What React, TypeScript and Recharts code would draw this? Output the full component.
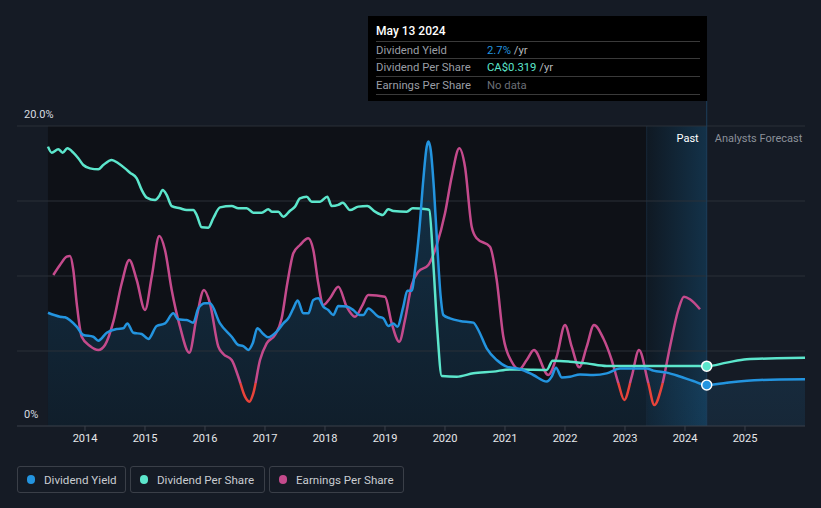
import React from 'react';
import {
  ComposedChart,
  Area,
  Line,
  XAxis,
  YAxis,
  ReferenceArea,
  ReferenceLine,
  ReferenceDot,
} from 'recharts';

// ---- Dividend Yield (%), incl. analyst forecast after May 2024 ----
const yieldYears = [
  2013.383, 2013.583, 2013.667, 2013.862, 2013.972, 2014.138, 2014.222, 2014.362, 2014.528, 2014.638,
  2014.705, 2014.805, 2014.945, 2015.055, 2015.195, 2015.333, 2015.472, 2015.555, 2015.695, 2015.805,
  2015.888, 2016.0, 2016.083, 2016.25, 2016.445, 2016.555, 2016.638, 2016.722, 2016.795, 2016.872,
  2016.972, 2017.055, 2017.195, 2017.305, 2017.388, 2017.472, 2017.545, 2017.638, 2017.722, 2017.805,
  2017.888, 2017.972, 2018.055, 2018.138, 2018.222, 2018.362, 2018.472, 2018.572, 2018.638, 2018.722,
  2018.888, 2018.972, 2019.055, 2019.138, 2019.205, 2019.305, 2019.372, 2019.445, 2019.5, 2019.572,
  2019.638, 2019.695, 2019.722, 2019.762, 2019.817, 2019.872, 2019.928, 2019.972, 2020.083, 2020.25,
  2020.472, 2020.555, 2020.695, 2020.862, 2021.028, 2021.25, 2021.472, 2021.695, 2021.778, 2021.85,
  2021.945, 2022.083, 2022.25, 2022.472, 2022.695, 2022.917, 2023.362, 2023.472, 2023.695, 2023.917,
  2024.138, 2024.362, 2024.695, 2025.25, 2026.0,
];
const yieldValues = [
  7.55, 7.29, 7.25, 6.62, 6.07, 5.95, 5.69, 6.22, 6.47, 6.51,
  6.84, 6.22, 6.13, 5.8, 6.67, 6.84, 7.51, 7.11, 7.07, 6.89,
  7.84, 8.18, 8.18, 6.84, 5.95, 5.4, 5.33, 5.07, 5.51, 6.51,
  6.13, 5.91, 6.29, 6.84, 7.18, 7.84, 8.36, 7.51, 7.51, 8.4,
  8.51, 7.96, 7.73, 7.4, 8.0, 7.96, 7.73, 7.4, 7.4, 7.84,
  7.29, 7.18, 6.67, 6.84, 6.62, 7.96, 9.02, 9.02, 10.4, 13.07,
  16.4, 18.62, 18.96, 18.4, 15.73, 11.96, 8.62, 7.4, 7.18, 7.0,
  6.89, 6.4, 5.18, 4.4, 3.96, 3.8, 3.4, 2.96, 3.29, 3.89,
  3.24, 3.29, 3.44, 3.4, 3.51, 3.84, 3.84, 3.69, 3.56, 3.3,
  3.0, 2.73, 2.89, 3.07, 3.11,
];

// ---- Dividend Per Share (CA$ / yr) ----
const dpsYears = [
  2013.383, 2013.445, 2013.555, 2013.628, 2013.705, 2013.805, 2013.888, 2013.972, 2014.083, 2014.222,
  2014.305, 2014.445, 2014.555, 2014.667, 2014.75, 2014.862, 2014.945, 2015.028, 2015.167, 2015.238,
  2015.295, 2015.362, 2015.445, 2015.583, 2015.695, 2015.805, 2015.862, 2015.945, 2016.055, 2016.138,
  2016.25, 2016.445, 2016.555, 2016.695, 2016.805, 2016.945, 2017.055, 2017.112, 2017.222, 2017.305,
  2017.417, 2017.5, 2017.583, 2017.695, 2017.778, 2017.917, 2018.038, 2018.112, 2018.222, 2018.295,
  2018.417, 2018.555, 2018.705, 2018.833, 2018.962, 2019.055, 2019.138, 2019.362, 2019.462, 2019.695,
  2019.738, 2019.805, 2019.872, 2019.945, 2020.195, 2020.472, 2020.805, 2021.083, 2021.417, 2021.695,
  2021.795, 2022.083, 2022.362, 2022.695, 2023.362, 2024.083, 2024.362, 2024.695, 2025.028, 2025.528,
  2026.0,
];
const dpsValues = [
  1.49, 1.458, 1.476, 1.458, 1.481, 1.458, 1.428, 1.392, 1.374, 1.369,
  1.392, 1.419, 1.401, 1.374, 1.351, 1.321, 1.259, 1.218, 1.205, 1.227,
  1.259, 1.232, 1.173, 1.161, 1.152, 1.152, 1.125, 1.06, 1.058, 1.108,
  1.166, 1.173, 1.161, 1.161, 1.138, 1.138, 1.156, 1.143, 1.143, 1.116,
  1.148, 1.17, 1.214, 1.223, 1.196, 1.196, 1.223, 1.173, 1.179, 1.191,
  1.152, 1.17, 1.173, 1.143, 1.125, 1.156, 1.147, 1.143, 1.161, 1.156,
  1.152, 0.868, 0.512, 0.267, 0.263, 0.281, 0.29, 0.302, 0.3, 0.299,
  0.348, 0.343, 0.334, 0.32, 0.32, 0.32, 0.319, 0.338, 0.356, 0.361,
  0.364,
];

// ---- Earnings Per Share (CA$, relative scale) ----
const epsYears = [
  2013.472, 2013.583, 2013.695, 2013.75, 2013.805, 2013.862, 2013.945, 2014.083, 2014.222, 2014.333,
  2014.472, 2014.612, 2014.738, 2014.862, 2015.0, 2015.112, 2015.238, 2015.333, 2015.445, 2015.583,
  2015.738, 2015.862, 2015.983, 2016.083, 2016.222, 2016.305, 2016.445, 2016.555, 2016.667, 2016.738,
  2016.805, 2016.917, 2017.028, 2017.167, 2017.278, 2017.372, 2017.472, 2017.583, 2017.722, 2017.805,
  2017.888, 2017.972, 2018.083, 2018.222, 2018.362, 2018.5, 2018.612, 2018.722, 2019.0, 2019.112,
  2019.238, 2019.333, 2019.445, 2019.555, 2019.722, 2019.862, 2020.0, 2020.112, 2020.238, 2020.333,
  2020.445, 2020.528, 2020.75, 2020.862, 2020.972, 2021.112, 2021.238, 2021.362, 2021.483, 2021.722,
  2021.862, 2022.0, 2022.112, 2022.238, 2022.362, 2022.483, 2022.638, 2022.778, 2022.888, 2022.988,
  2023.112, 2023.233, 2023.388, 2023.488, 2023.612, 2023.75, 2023.888, 2023.983, 2024.083, 2024.25,
];
const epsValues = [
  1.08, 1.18, 1.263, 1.27, 1.13, 0.797, 0.463, 0.37, 0.33, 0.38,
  0.613, 0.997, 1.23, 1.03, 0.73, 1.063, 1.47, 1.33, 0.93, 0.563,
  0.303, 0.663, 0.93, 0.797, 0.363, 0.29, 0.23, 0.063, -0.137, -0.187,
  -0.103, 0.23, 0.397, 0.48, 0.647, 0.997, 1.297, 1.38, 1.447, 1.33,
  0.997, 0.78, 0.847, 0.963, 0.763, 0.663, 0.763, 0.88, 0.863, 0.597,
  0.413, 0.63, 0.98, 1.113, 1.18, 1.38, 1.697, 2.063, 2.347, 2.163,
  1.563, 1.447, 1.363, 1.03, 0.463, 0.213, 0.137, 0.23, 0.33, 0.08,
  0.263, 0.58, 0.363, 0.157, 0.363, 0.58, 0.447, 0.23, 0.0, -0.17,
  0.063, 0.33, 0.0, -0.22, -0.037, 0.363, 0.73, 0.863, 0.837, 0.737,
];

const xTicks = [2014, 2015, 2016, 2017, 2018, 2019, 2020, 2021, 2022, 2023, 2024, 2025];
const yTickLabels = [
  { value: 20, text: '20.0%' },
  { value: 0, text: '0%' },
];
const gridLevels = [5, 10, 15, 20];

const xDomain = [2012.8667, 2026];
const pctDomain = [0, 20];
const dpsDomain = [0, 1.6];
const epsDomain = [-0.43, 2.57];

const pastStart = 2013.383;
const highlightStart = 2023.362;
const today = 2024.362;
const todayYield = 2.73;
const todayDps = 0.319;

const BLUE = '#2394df';
const TEAL = '#5ce6cc';
const PINK = '#c44a8c';
const RED = '#e8433a';

const W = 821;
const H = 508;

const FONT = 'Roboto, "Noto Sans", sans-serif';

const XTick = (props: any) => {
  const { x, y, payload } = props;
  return (
    <text x={x} y={y + 9} textAnchor="middle" fill="#e6e8eb" fontSize={11} fontFamily={FONT}>
      {payload.value}
    </text>
  );
};

const makeYLabel = (text: string) => (props: any) => {
  const vb = props.viewBox || {};
  const y = vb.y ?? 0;
  return (
    <text x={24} y={y - 8} textAnchor="start" fill="#d8dbe0" fontSize={11} fontFamily={FONT}>
      {text}
    </text>
  );
};

const DividerLabel = (props: any) => {
  const vb = props.viewBox || {};
  const x = vb.x ?? 0;
  const y = (vb.y ?? 0) + 16;
  return (
    <g>
      <text x={x - 8} y={y} textAnchor="end" fill="#ffffff" fontSize={11} fontFamily={FONT}>
        Past
      </text>
      <text x={x + 8} y={y} textAnchor="start" fill="#8b9099" fontSize={11} fontFamily={FONT}>
        Analysts Forecast
      </text>
    </g>
  );
};

const legendItems = [
  { label: 'Dividend Yield', color: BLUE, width: 109 },
  { label: 'Dividend Per Share', color: TEAL, width: 135 },
  { label: 'Earnings Per Share', color: PINK, width: 135 },
];

export default function App() {
  const yieldData = yieldYears.map((x, i) => ({ x, v: yieldValues[i] }));
  const dpsData = dpsYears.map((x, i) => ({ x, v: dpsValues[i] }));
  const epsData = epsYears.map((x, i) => ({ x, v: epsValues[i] }));

  const epsZeroOffset = (epsDomain[1] - 0) / (epsDomain[1] - epsDomain[0]);

  return (
    <div
      style={{
        position: 'absolute',
        left: 0,
        top: 0,
        width: W,
        height: H,
        background: '#151b25',
        fontFamily: FONT,
        overflow: 'hidden',
      }}
    >
      <svg width={0} height={0} style={{ position: 'absolute' }}>
        <defs>
          <linearGradient id="yieldFill" gradientUnits="userSpaceOnUse" x1="0" y1="126" x2="0" y2="426">
            <stop offset="0" stopColor={BLUE} stopOpacity={0.26} />
            <stop offset="1" stopColor={BLUE} stopOpacity={0.1} />
          </linearGradient>
          <linearGradient id="epsStroke" gradientUnits="userSpaceOnUse" x1="0" y1="126" x2="0" y2="426">
            <stop offset="0" stopColor={PINK} />
            <stop offset={epsZeroOffset} stopColor={PINK} />
            <stop offset={epsZeroOffset} stopColor={RED} />
            <stop offset="1" stopColor={RED} />
          </linearGradient>
          <linearGradient id="hlFill" x1="0" y1="0" x2="1" y2="0">
            <stop offset="0" stopColor={BLUE} stopOpacity={0.06} />
            <stop offset="1" stopColor={BLUE} stopOpacity={0.25} />
          </linearGradient>
        </defs>
      </svg>

      <ComposedChart width={W} height={H} margin={{ top: 126, right: 16, bottom: 52, left: 17 }}>
        <XAxis
          type="number"
          dataKey="x"
          domain={xDomain}
          ticks={xTicks}
          allowDataOverflow
          height={30}
          stroke="#3b414b"
          tickLine={{ stroke: '#3b414b' }}
          tickSize={5}
          tick={<XTick />}
          interval={0}
        />
        <YAxis yAxisId="pct" domain={pctDomain} hide allowDataOverflow />
        <YAxis yAxisId="dps" domain={dpsDomain} hide allowDataOverflow />
        <YAxis yAxisId="eps" domain={epsDomain} hide allowDataOverflow />

        <ReferenceArea yAxisId="pct" x1={pastStart} x2={today} y1={0} y2={20} fill="#0e1117" fillOpacity={1} stroke="none" />
        <ReferenceArea yAxisId="pct" x1={highlightStart} x2={today} y1={0} y2={20} fill="url(#hlFill)" fillOpacity={1} stroke="none" />
        <ReferenceLine yAxisId="pct" x={highlightStart} stroke="#17283a" strokeWidth={1} />

        {gridLevels.map((g) => (
          <ReferenceLine key={g} yAxisId="pct" y={g} stroke="#2b3039" strokeWidth={1} />
        ))}
        {yTickLabels.map((t) => (
          <ReferenceLine key={t.text} yAxisId="pct" y={t.value} stroke="none" label={makeYLabel(t.text)} />
        ))}

        <ReferenceLine
          yAxisId="pct"
          segment={[{ x: today, y: 0 }, { x: today, y: 21.67 }]}
          ifOverflow="visible"
          stroke="#1d3e5c"
          strokeWidth={1}
        />
        <ReferenceLine yAxisId="pct" x={today} stroke="none" label={<DividerLabel />} />

        <Area
          yAxisId="pct"
          data={yieldData}
          dataKey="v"
          type="monotone"
          stroke="none"
          fill="url(#yieldFill)"
          fillOpacity={1}
          isAnimationActive={false}
          dot={false}
          activeDot={false}
        />
        <Line
          yAxisId="eps"
          data={epsData}
          dataKey="v"
          type="monotone"
          stroke="url(#epsStroke)"
          strokeWidth={2.5}
          dot={false}
          activeDot={false}
          isAnimationActive={false}
        />
        <Line
          yAxisId="dps"
          data={dpsData}
          dataKey="v"
          type="monotone"
          stroke={TEAL}
          strokeWidth={2.5}
          dot={false}
          activeDot={false}
          isAnimationActive={false}
        />
        <Line
          yAxisId="pct"
          data={yieldData}
          dataKey="v"
          type="monotone"
          stroke={BLUE}
          strokeWidth={2.5}
          dot={false}
          activeDot={false}
          isAnimationActive={false}
        />
        <ReferenceDot yAxisId="dps" x={today} y={todayDps} r={5} fill={TEAL} stroke="#ffffff" strokeWidth={1.5} />
        <ReferenceDot yAxisId="pct" x={today} y={todayYield} r={5} fill={BLUE} stroke="#ffffff" strokeWidth={1.5} />
      </ComposedChart>

      {/* Tooltip box */}
      <div
        style={{
          position: 'absolute',
          left: 368,
          top: 16,
          width: 339,
          height: 85,
          background: '#000000',
          color: '#fff',
        }}
      >
        <div style={{ position: 'absolute', left: 8, top: 6, height: 18, lineHeight: '18px', fontSize: 12, fontWeight: 500, color: '#ffffff' }}>
          May 13 2024
        </div>
        {[
          { label: 'Dividend Yield', value: '2.7%', color: BLUE, unit: ' /yr' },
          { label: 'Dividend Per Share', value: 'CA$0.319', color: TEAL, unit: ' /yr' },
          { label: 'Earnings Per Share', value: 'No data', color: '#6b6f76', unit: '' },
        ].map((r, i) => (
          <div
            key={r.label}
            style={{
              position: 'absolute',
              left: 8,
              top: 25 + i * 17.3,
              width: 324,
              height: 17,
              borderTop: '1px solid #3a3a3a',
              borderBottom: i === 2 ? '1px solid #3a3a3a' : 'none',
              fontSize: 11.3,
              lineHeight: '17px',
            }}
          >
            <span style={{ position: 'absolute', left: 0, color: '#9a9ea5' }}>{r.label}</span>
            <span style={{ position: 'absolute', left: 111, whiteSpace: 'nowrap' }}>
              <span style={{ color: r.color }}>{r.value}</span>
              <span style={{ color: '#b5b8bd' }}>{r.unit}</span>
            </span>
          </div>
        ))}
      </div>

      {/* Legend */}
      <div style={{ position: 'absolute', left: 17, top: 466, display: 'flex', gap: 4 }}>
        {legendItems.map((it) => (
          <div
            key={it.label}
            style={{
              width: it.width,
              height: 27,
              border: '1px solid #3a3f48',
              borderRadius: 3,
              display: 'flex',
              alignItems: 'center',
              padding: '0 0 0 9px',
              fontSize: 11.6,
              color: '#c9ccd1',
              boxSizing: 'border-box',
              whiteSpace: 'nowrap',
            }}
          >
            <span
              style={{
                width: 8,
                height: 9,
                borderRadius: 5,
                background: it.color,
                display: 'inline-block',
                marginRight: 9,
              }}
            />
            {it.label}
          </div>
        ))}
      </div>
    </div>
  );
}
